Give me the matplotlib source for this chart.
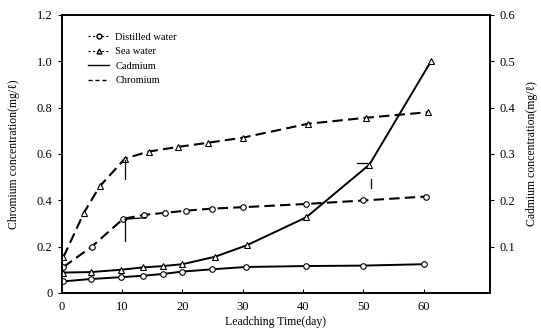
import matplotlib
matplotlib.use("Agg")
import matplotlib.pyplot as plt
from matplotlib.lines import Line2D

plt.rcParams["font.family"] = ["Liberation Serif", "DejaVu Serif"]
plt.rcParams["font.size"] = 8.5

# ──── DATA ───────────────────────────────────────────────────────────────────

# chromium, left axis (mg/l)
sea_cr_days = [0.3, 3.7, 6.3, 10.5, 14.4, 19.2, 24.2, 30.0, 40.8, 50.4, 60.7]
sea_cr = [0.155, 0.347, 0.46, 0.58, 0.61, 0.63, 0.648, 0.67, 0.73, 0.756, 0.78]
dist_cr_days = [0.3, 5.0, 10.2, 13.7, 17.2, 20.6, 24.9, 30.0, 40.5, 50.0, 60.3]
dist_cr = [0.112, 0.2, 0.32, 0.337, 0.346, 0.355, 0.364, 0.37, 0.384, 0.399, 0.416]

# cadmium, right axis (mg/l)
sea_cd_days = [0.3, 4.8, 9.8, 13.4, 16.8, 20.0, 25.4, 30.7, 40.5, 51.0, 61.2]
sea_cd = [0.044, 0.045, 0.05, 0.055, 0.058, 0.062, 0.078, 0.103, 0.163, 0.277, 0.5]
dist_cd_days = [0.3, 4.8, 9.8, 13.4, 16.8, 20.0, 24.9, 30.5, 40.5, 50.0, 60.0]
dist_cd = [0.025, 0.03, 0.034, 0.037, 0.041, 0.046, 0.051, 0.056, 0.058, 0.059, 0.062]

# little break marks drawn on the original (left-axis units)
break_marks = [
    ([10.5, 10.5], [0.575, 0.49]),
    ([10.5, 10.5], [0.32, 0.225]),
    ([10.5, 14.0], [0.318, 0.325]),
    ([49.0, 50.6], [0.56, 0.56]),
    ([51.3, 51.3], [0.49, 0.455]),
]

x_ticks = [0, 10, 20, 30, 40, 50, 60]
left_ticks = [0, 0.2, 0.4, 0.6, 0.8, 1.0, 1.2]
left_labels = ["0", "0.2", "0.4", "0.6", "0.8", "1.0", "1.2"]
right_ticks = [0.1, 0.2, 0.3, 0.4, 0.5, 0.6]

# ──── PLOT ───────────────────────────────────────────────────────────────────

fig, ax = plt.subplots(figsize=(5.41, 3.31), dpi=100)
fig.subplots_adjust(left=0.114, right=0.906, bottom=0.115, top=0.955)
ax2 = ax.twinx()

dash = (0, (5, 2.5))
ms = 4
ax.plot(sea_cr_days, sea_cr, color="black", lw=1.5, ls=dash, marker="^",
        mfc="white", mec="black", ms=ms, mew=0.8)
ax.plot(dist_cr_days, dist_cr, color="black", lw=1.5, ls=dash, marker="o",
        mfc="white", mec="black", ms=ms, mew=0.8)
ax2.plot(sea_cd_days, sea_cd, color="black", lw=1.4, marker="^",
         mfc="white", mec="black", ms=ms, mew=0.8)
ax2.plot(dist_cd_days, dist_cd, color="black", lw=1.4, marker="o",
         mfc="white", mec="black", ms=ms, mew=0.8)

for xs, ys in break_marks:
    ax.plot(xs, ys, color="black", lw=0.9)

ax.set_xlim(0, 71)
ax.set_ylim(0, 1.2)
ax2.set_ylim(0, 0.6)

ax.set_xticks(x_ticks)
ax.set_yticks(left_ticks)
ax.set_yticklabels(left_labels)
ax2.set_yticks(right_ticks)
ax2.set_yticklabels([f"{t:.1f}" for t in right_ticks])

ax.tick_params(axis="x", direction="in", length=3, pad=6, labelsize=9)
ax.tick_params(axis="y", direction="out", length=3, labelsize=9)
ax2.tick_params(axis="y", direction="out", length=3, labelsize=9)

for a in (ax, ax2):
    for s in a.spines.values():
        s.set_linewidth(1.2)

ax.set_xlabel("Leadching Time(day)", labelpad=2)
ax.set_ylabel("Chromium concentration(mg/ℓ)", labelpad=12)
ax2.set_ylabel("Cadmium concentration(mg/ℓ)", rotation=90, labelpad=8)

handles = [
    Line2D([], [], color="black", lw=0.8, ls=(0, (2, 2)), marker="o",
           mfc="white", ms=3.5, markevery=[0, 1]),
    Line2D([], [], color="black", lw=0.8, ls=(0, (2, 2)), marker="^",
           mfc="white", ms=3.5, markevery=[0, 1]),
    Line2D([], [], color="black", lw=1.0),
    Line2D([], [], color="black", lw=1.0, ls=(0, (3, 2))),
]
ax.legend(handles, ["Distilled water", "Sea water", "Cadmium", "Chromium"],
          loc="upper left", bbox_to_anchor=(0.04, 0.97), frameon=False,
          fontsize=7.5, handlelength=2.0, handletextpad=0.6, labelspacing=0.5)

fig.savefig("out.png", dpi=100)
